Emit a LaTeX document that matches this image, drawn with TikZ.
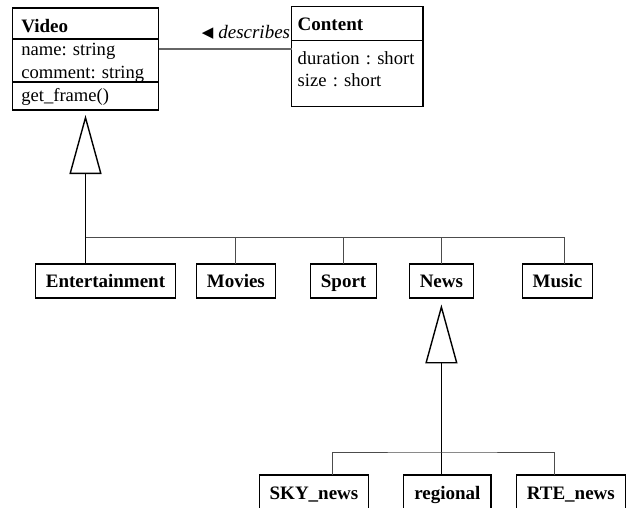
\documentclass[tikz,border=0pt]{standalone}
\usepackage{fontspec}
\setmainfont{Liberation Serif}
\newfontfamily\symfont{DejaVu Sans}
\usetikzlibrary{arrows.meta,positioning}
\frenchspacing

\begin{document}
\begin{tikzpicture}[x=1pt,y=1pt,line width=1.2pt,
                    gen/.style={-{Triangle[open,length=59pt,width=32pt]},line width=1.4pt},
                    tree/.style={draw=black!70,line width=1pt},
                    assoc/.style={draw=black!60,line width=1.2pt}]
  \tikzstyle{cls}=[draw,outer sep=0pt,inner xsep=9pt,inner ysep=0pt,align=left,
                   font=\fontsize{18.6}{22.5}\selectfont]
  \tikzstyle{clshead}=[cls,font=\fontsize{19}{22.5}\selectfont\bfseries]
  \tikzstyle{box}=[draw,outer sep=0pt,inner xsep=10.5pt,minimum height=34pt,
                   text height=15pt,text depth=1pt,font=\fontsize{19}{22.5}\selectfont\bfseries]

  \useasboundingbox (0,0) rectangle (631,-508);

  \node[clshead,text width=128.4pt,minimum height=31pt,text height=18pt,text depth=0.4pt]
        (vhead) at (85.5,-23.5) {Video};
  \node[cls,text width=128.4pt,minimum height=43pt,text height=17pt,text depth=26pt]
        (vattr) [below=0pt of vhead] {name: string\\comment: string};
  \node[cls,text width=128.4pt,minimum height=28pt,text height=15pt,text depth=3.6pt]
        (vmeth) [below=0pt of vattr] {get\_frame()};

  \node[clshead,text width=119.3pt,minimum height=33.7pt,text height=15pt,text depth=1.3pt,
        inner xsep=6pt]
        (chead) [right=133pt of vhead] {Content};
  \node[cls,text width=119.3pt,minimum height=66.3pt,text height=14pt,text depth=32.7pt,
        inner xsep=6pt]
        (cbody) [below=0pt of chead] {duration : short\\size : short};

  \node[box] (ent) at (105.5,-280.9)  {Entertainment};
  \node[box] (mov) [right=20.7pt of ent] {Movies};
  \node[box] (spo) [right=35pt of mov]   {Sport};
  \node[box] (new) [right=32.5pt of spo] {News};
  \node[box] (mus) [right=48.7pt of new] {Music};

  \node[box] (sky) at (314,-492)         {SKY\_news};
  \node[box] (reg) [right=35pt of sky]   {regional};
  \node[box] (rte) [right=25.3pt of reg] {RTE\_news};

  \coordinate (d1) at ([yshift=-10pt]vattr.north east);
  \coordinate (d2) at (d1 -| cbody.west);
  \draw[assoc] (d1) -- (d2);
  \node[anchor=base east,inner sep=1pt,font=\fontsize{19}{22.5}\selectfont\itshape]
        (desc) at ([yshift=10pt]d2)
        {{\symfont\upshape\fontsize{15}{15}\selectfont\raisebox{1pt}{◀}}\hspace{5pt}describes};

  \draw[gen,shorten >=5pt] (vmeth.south |- ent.north) -- (vmeth.south);
  \path (vmeth.south |- ent.north) ++(0,26) coordinate (b0);
  \coordinate (m1) at ([xshift=7pt]mus.north);
  \draw[tree] (b0) -| (m1);
  \foreach \n in {mov,spo,new}
    \draw[tree] (b0 -| \n.north) -- (\n.north);

  \draw[gen,shorten >=6.5pt] (new.south |- reg.north) -- (new.south);
  \path (new.south |- reg.north) ++(0,23) coordinate (b1);
  \coordinate (s1) at ([xshift=18.7pt]sky.north);
  \coordinate (r1) at ([xshift=-16.5pt]rte.north);
  \draw[tree] (s1) |- (b1) -| (r1);
\end{tikzpicture}
\end{document}
